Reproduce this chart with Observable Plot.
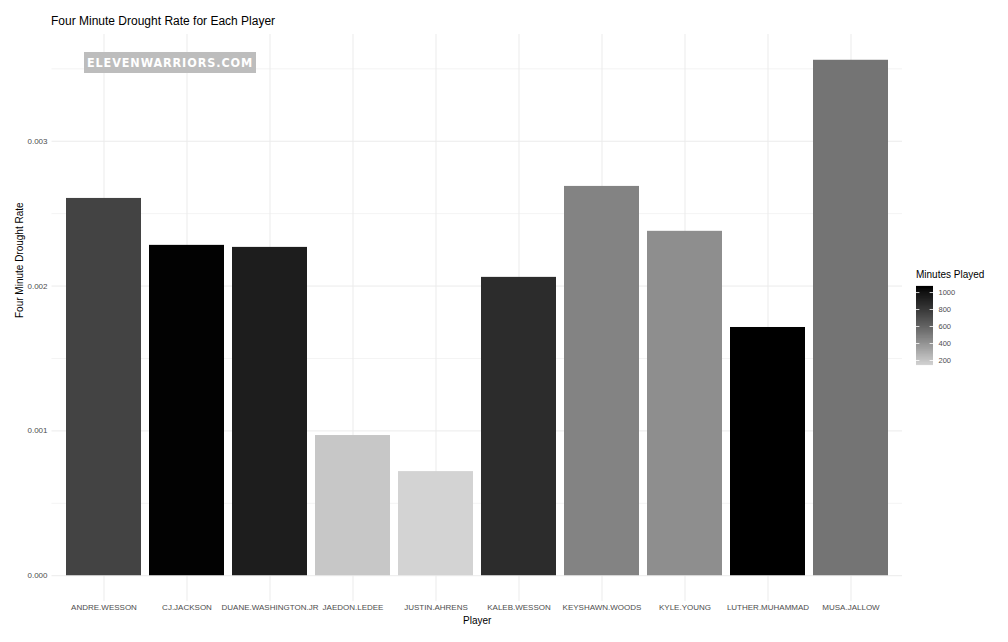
<!DOCTYPE html>
<html>
<head>
<meta charset="utf-8">
<script src="https://cdn.jsdelivr.net/npm/d3@7"></script>
<script src="https://cdn.jsdelivr.net/npm/@observablehq/plot@0.6"></script>
<style>
  html, body { margin: 0; padding: 0; background: #fff; }
  #wrap { position: relative; width: 1008px; height: 642px; font-family: "Liberation Sans", Arial, sans-serif; }
  #title { position: absolute; left: 51px; top: 14px; font-size: 12px; color: #000; white-space: nowrap; }
  #wm { position: absolute; left: 84px; top: 52px; width: 172px; height: 21px; background: #bdbdbd;
        color: #fff; font-family: "DejaVu Sans Condensed", "DejaVu Sans", sans-serif; font-weight: bold;
        font-size: 12.5px; letter-spacing: 0.9px; line-height: 21px; text-align: center; white-space: nowrap; overflow: visible; }
  #legtitle { position: absolute; left: 916px; top: 269px; font-size: 10px; color: #000; white-space: nowrap; }
  #legend { position: absolute; left: 916px; top: 276px; }
  #chart { position: absolute; left: 0; top: 0; }
</style>
</head>
<body>
<div id="wrap">
  <div id="chart"></div>
  <div id="title">Four Minute Drought Rate for Each Player</div>
  <div id="wm">ELEVENWARRIORS.COM</div>
  <div id="legtitle">Minutes Played</div>
  <div id="legend"></div>
</div>
<script>
const players = ["ANDRE.WESSON","CJ.JACKSON","DUANE.WASHINGTON.JR","JAEDON.LEDEE","JUSTIN.AHRENS","KALEB.WESSON","KEYSHAWN.WOODS","KYLE.YOUNG","LUTHER.MUHAMMAD","MUSA.JALLOW"];
const droughtRate = [0.002605,0.002281,0.002267,0.000968,0.000719,0.002060,0.002688,0.002378,0.001714,0.003559];
const minutesPlayed = [762,1065,956,199,153,875,476,430,1071,541];
const yTicks = [0,0.001,0.002,0.003];
const yMinor = [0.0005,0.0015,0.0025,0.0035];
const legendTicks = [200,400,600,800,1000];

const data = players.map((p, i) => ({player: p, rate: droughtRate[i], minutes: minutesPlayed[i]}));
const mExtent = d3.extent(minutesPlayed);
const colorOpts = {type: "linear", domain: mExtent, range: ["#d3d3d3", "#000000"], interpolate: d3.interpolateLab};

const rMax = d3.max(droughtRate);
const yDomain = [-rMax * 0.05, rMax * 1.05];

const chart = Plot.plot({
  width: 1008, height: 642,
  marginLeft: 51.5, marginRight: 106, marginTop: 34, marginBottom: 41,
  style: {fontFamily: "'Liberation Sans', Arial, sans-serif", background: "transparent"},
  x: {domain: players, paddingInner: 0.1, paddingOuter: 0.15, axis: null, label: null},
  y: {domain: yDomain, axis: null, label: null},
  color: colorOpts,
  marks: [
    Plot.gridY(yMinor, {stroke: "#ebebeb", strokeOpacity: 1, strokeWidth: 0.6}),
    Plot.gridY(yTicks, {stroke: "#ebebeb", strokeOpacity: 1, strokeWidth: 1}),
    Plot.gridX(players, {stroke: "#ebebeb", strokeOpacity: 1, strokeWidth: 1}),
    Plot.barY(data, {x: "player", y: "rate", fill: "minutes"}),
    Plot.axisY(yTicks, {tickSize: 0, tickPadding: 4.5, tickFormat: d3.format(".3f"), fontSize: 8, fill: "#4d4d4d", label: null}),
    Plot.axisX({tickSize: 0, tickPadding: 3, fontSize: 8, fill: "#4d4d4d", label: null}),
    Plot.text(["Player"], {frameAnchor: "bottom", dy: 19, lineAnchor: "middle", fontSize: 10, fill: "#000"}),
    Plot.text(["Four Minute Drought Rate"], {frameAnchor: "left", dx: -32.5, rotate: -90, fontSize: 10, fill: "#000"})
  ]
});
document.getElementById("chart").appendChild(chart);

const ramp = d3.range(0, 200).map(i => mExtent[0] + (mExtent[1] - mExtent[0]) * i / 199);
const legend = Plot.plot({
  width: 80, height: 100,
  marginLeft: 0, marginRight: 63, marginTop: 10, marginBottom: 12,
  style: {fontFamily: "'Liberation Sans', Arial, sans-serif", background: "transparent"},
  y: {domain: mExtent, axis: null},
  color: colorOpts,
  marks: [
    Plot.tickY(ramp, {y: d => d, stroke: d => d, strokeWidth: 1.2}),
    Plot.tickY(legendTicks, {y: d => d, stroke: "white", strokeWidth: 0.8, strokeDasharray: "3.4 10.2"}),
    Plot.axisY(legendTicks, {anchor: "right", tickSize: 0, tickPadding: 5, tickFormat: d3.format("d"), fontSize: 7.5, fill: "#4d4d4d", label: null})
  ]
});
document.getElementById("legend").appendChild(legend);
</script>
</body>
</html>
